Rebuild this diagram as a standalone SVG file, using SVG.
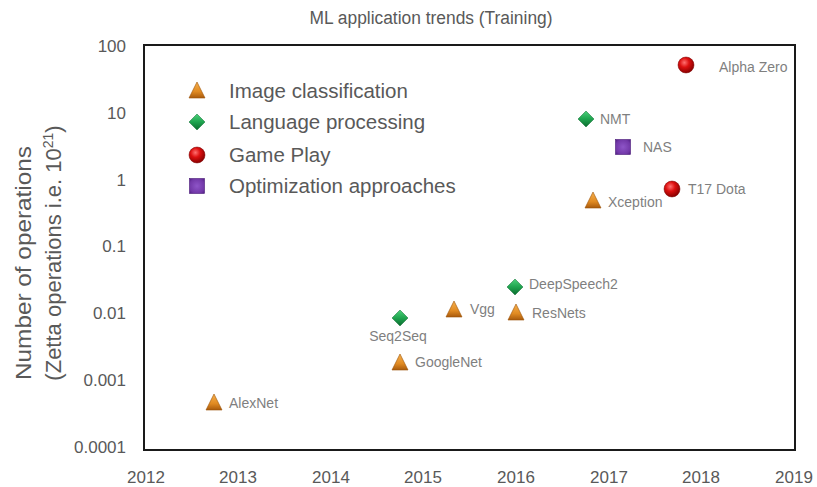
<svg xmlns="http://www.w3.org/2000/svg" width="817" height="487" viewBox="0 0 817 487">
<defs>
<linearGradient id="gTri" x1="0" y1="0" x2="0" y2="1"><stop offset="0" stop-color="#F6B04C"/><stop offset="0.6" stop-color="#E08A22"/><stop offset="1" stop-color="#A95A0C"/></linearGradient>
<linearGradient id="gDia" x1="0" y1="0" x2="0" y2="1"><stop offset="0" stop-color="#4CD07A"/><stop offset="0.5" stop-color="#1FA44F"/><stop offset="1" stop-color="#0B6B2E"/></linearGradient>
<radialGradient id="gCir" cx="0.4" cy="0.35" r="0.65"><stop offset="0" stop-color="#FF7070"/><stop offset="0.45" stop-color="#DD1010"/><stop offset="1" stop-color="#8A0000"/></radialGradient>
<radialGradient id="gSq" cx="0.5" cy="0.5" r="0.7"><stop offset="0" stop-color="#8E55C8"/><stop offset="0.7" stop-color="#7238A8"/><stop offset="1" stop-color="#4E1C80"/></radialGradient>
<path id="tri" d="M0,-9 L8,7 L-8,7 Z"/>
<path id="dia" d="M0,-8 L8,0 L0,8 L-8,0 Z"/>
<rect id="sq" x="-7.5" y="-7.5" width="15" height="15"/>
</defs>
<style>
text{font-family:"Liberation Sans",Arial,sans-serif;}
.title{font-size:18px;fill:#595959;text-anchor:middle;}
.tick{font-size:17px;fill:#595959;}
.yt{text-anchor:end;}
.xt{text-anchor:middle;}
.ylab{font-size:22px;fill:#595959;text-anchor:middle;}
.leg{font-size:20.5px;fill:#595959;}
.dl{font-size:14px;fill:#7f7f7f;}
.tri{fill:url(#gTri);stroke:#9A5208;stroke-width:0.6;}
.dia{fill:url(#gDia);stroke:#0B6B2E;stroke-width:0.5;}
.cir{fill:url(#gCir);stroke:#7A0000;stroke-width:0.5;}
.sq{fill:url(#gSq);stroke:#4A1A78;stroke-width:0.6;}
.frame{fill:#fff;stroke:#1a1a1a;stroke-width:2;}
</style>
<rect width="817" height="487" fill="#fff"/>
<text class="title" x="431" y="24" textLength="243" lengthAdjust="spacingAndGlyphs">ML application trends (Training)</text>
<g id="axes">
<rect class="frame" x="144" y="45" width="651" height="405"/>
<text class="tick yt" x="126" y="52">100</text>
<text class="tick yt" x="126" y="119">10</text>
<text class="tick yt" x="126" y="186">1</text>
<text class="tick yt" x="126" y="252">0.1</text>
<text class="tick yt" x="126" y="319">0.01</text>
<text class="tick yt" x="126" y="386">0.001</text>
<text class="tick yt" x="126" y="453">0.0001</text>
<text class="tick xt" x="146" y="483">2012</text>
<text class="tick xt" x="238" y="483">2013</text>
<text class="tick xt" x="331" y="483">2014</text>
<text class="tick xt" x="423" y="483">2015</text>
<text class="tick xt" x="516" y="483">2016</text>
<text class="tick xt" x="609" y="483">2017</text>
<text class="tick xt" x="701" y="483">2018</text>
<text class="tick xt" x="794" y="483">2019</text>
<text class="ylab" transform="translate(31,263) rotate(-90)" textLength="234" lengthAdjust="spacingAndGlyphs">Number of operations</text>
<text class="ylab" transform="translate(61,253) rotate(-90)">(Zetta operations i.e. 10<tspan font-size="14" dy="-8">21</tspan><tspan dy="8">)</tspan></text>
</g>
<g id="legend">
<use href="#tri" class="tri" x="197" y="91"/>
<text class="leg" x="229" y="98">Image classification</text>
<use href="#dia" class="dia" x="197" y="122"/>
<text class="leg" x="229" y="129">Language processing</text>
<circle class="cir" cx="197" cy="155" r="8"/>
<text class="leg" x="229" y="162">Game Play</text>
<use href="#sq" class="sq" x="197" y="186"/>
<text class="leg" x="229" y="193">Optimization approaches</text>
</g>
<g id="alphazero"><circle class="cir" cx="686" cy="65" r="8"/><text class="dl" x="719" y="72">Alpha Zero</text></g>
<g id="nmt"><use href="#dia" class="dia" x="586" y="119"/><text class="dl" x="600" y="124">NMT</text></g>
<g id="nas"><use href="#sq" class="sq" x="623" y="147"/><text class="dl" x="643" y="152">NAS</text></g>
<g id="t17dota"><circle class="cir" cx="672" cy="189" r="8"/><text class="dl" x="688" y="194">T17 Dota</text></g>
<g id="xception"><use href="#tri" class="tri" x="593" y="201"/><text class="dl" x="608" y="207">Xception</text></g>
<g id="deepspeech2"><use href="#dia" class="dia" x="515" y="287"/><text class="dl" x="529" y="289">DeepSpeech2</text></g>
<g id="vgg"><use href="#tri" class="tri" x="454" y="310"/><text class="dl" x="470" y="314">Vgg</text></g>
<g id="resnets"><use href="#tri" class="tri" x="516" y="313"/><text class="dl" x="532" y="318">ResNets</text></g>
<g id="seq2seq"><use href="#dia" class="dia" x="400" y="318"/><text class="dl" x="398" y="341" text-anchor="middle">Seq2Seq</text></g>
<g id="googlenet"><use href="#tri" class="tri" x="400" y="363"/><text class="dl" x="415" y="367">GoogleNet</text></g>
<g id="alexnet"><use href="#tri" class="tri" x="214" y="403"/><text class="dl" x="229" y="408">AlexNet</text></g>
</svg>
